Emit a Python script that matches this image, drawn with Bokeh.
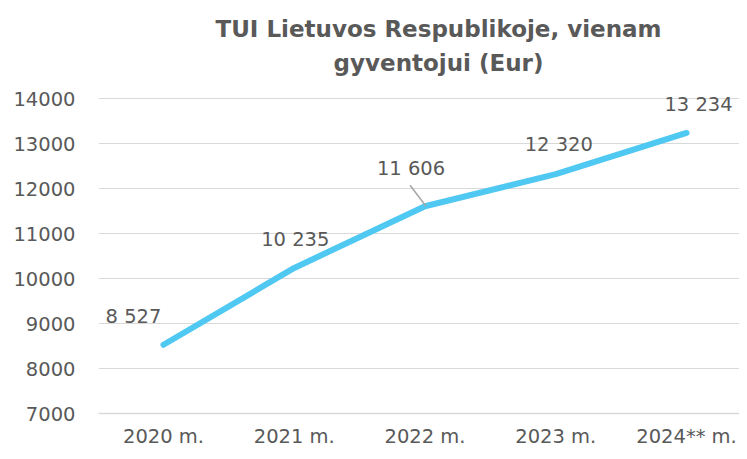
from bokeh.plotting import figure
from bokeh.models import Range1d, FixedTicker, ColumnDataSource
from bokeh.core.properties import value
from bokeh.embed import file_html
from bokeh.resources import INLINE

# ---- data ----
years = ["2020 m.", "2021 m.", "2022 m.", "2023 m.", "2024** m."]
values = [8527, 10235, 11606, 12320, 13234]
value_labels = ["8 527", "10 235", "11 606", "12 320", "13 234"]
y_ticks = [7000, 8000, 9000, 10000, 11000, 12000, 13000, 14000]
title_lines = ["TUI Lietuvos Respublikoje, vienam", "gyventojui (Eur)"]

# ---- presentation ----
label_dx = [-30, 1, -14, 3, 12]
label_dy = [-28, -28, -38, -30, -28]
FONT = "DejaVu Sans"
TXT = "#595959"
GRID = "#D9D9D9"
LINE = "#4FC8F2"

W, H = 739, 451
ML, MR, MT, MB = 98, 0, 0, 38
x_start, x_end = -0.497, 4.405
y_lo, y_hi = 7000, 14000
grid_top_px = 98                     # pixel row of the top gridline
frame_w = W - ML - MR
frame_h = H - MT - MB
px_y = (frame_h - grid_top_px) / (y_hi - y_lo)
y_end = y_hi + grid_top_px / px_y    # headroom above the top gridline for the title
px_x = frame_w / (x_end - x_start)

p = figure(width=W, height=H, output_backend="svg", toolbar_location=None,
           title=None,
           x_range=Range1d(x_start, x_end), y_range=Range1d(y_lo, y_end),
           min_border_left=ML, min_border_right=MR, min_border_top=MT,
           min_border_bottom=MB)
p.outline_line_color = None
p.background_fill_color = "white"
p.border_fill_color = "white"

p.xgrid.visible = False
p.ygrid.grid_line_color = GRID
p.ygrid.grid_line_width = 1

p.yaxis.ticker = FixedTicker(ticks=y_ticks)
p.yaxis.axis_line_color = None
p.yaxis.major_tick_line_color = None
p.yaxis.minor_tick_line_color = None
p.yaxis.major_tick_out = 0
p.yaxis.minor_tick_out = 0
p.yaxis.major_label_text_font = FONT
p.yaxis.major_label_text_font_size = "19.5px"
p.yaxis.major_label_text_color = TXT
p.yaxis.major_label_standoff = 23

xs = list(range(len(years)))
p.xaxis.ticker = FixedTicker(ticks=xs)
p.xaxis.major_label_overrides = {i: y for i, y in enumerate(years)}
p.xaxis.axis_line_color = GRID
p.xaxis.axis_line_width = 1.5
p.xaxis.major_tick_line_color = None
p.xaxis.minor_tick_line_color = None
p.xaxis.major_tick_out = 0
p.xaxis.minor_tick_out = 0
p.xaxis.major_label_text_font = FONT
p.xaxis.major_label_text_font_size = "19.5px"
p.xaxis.major_label_text_color = TXT
p.xaxis.major_label_standoff = 11

src = ColumnDataSource(dict(x=xs, y=values, lab=value_labels, dx=label_dx, dy=label_dy))
p.line("x", "y", source=src, line_color=LINE, line_width=6, line_cap="round", line_join="round")

# leader line for the 2022 label
i = 2
p.segment(x0=[xs[i] - 15 / px_x], y0=[values[i] + 21 / px_y],
          x1=[xs[i] + 1 / px_x], y1=[values[i]],
          line_color="#A6A6A6", line_width=1.5)

p.text("x", "y", text="lab", source=src, x_offset="dx", y_offset="dy",
       text_align="center", text_baseline="middle",
       text_font=value(FONT), text_font_size="19.5px", text_color=TXT)

# two-line title in the headroom above the plot
title_px_x = 438 - ML
title_px_y = [28, 62]               # baselines, pixels from the top
tx = [x_start + title_px_x / px_x] * len(title_lines)
ty = [y_end - (yy - MT) / px_y for yy in title_px_y]
p.text(x=tx, y=ty, text=title_lines, text_align="center", text_baseline="alphabetic",
       text_font=value(FONT), text_font_size="23px", text_font_style="bold",
       text_color=TXT)

open("out.html", "w").write(file_html(p, INLINE))
